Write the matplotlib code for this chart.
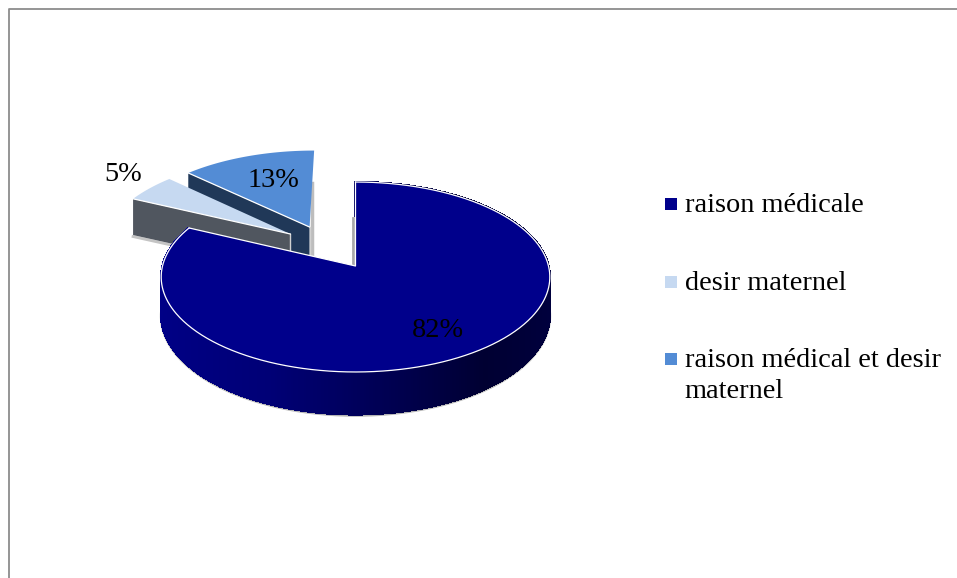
import numpy as np
import matplotlib
matplotlib.use("Agg")
import matplotlib.pyplot as plt
from matplotlib.collections import PolyCollection
from matplotlib.patches import Polygon, Rectangle

categories = ["raison médicale", "desir maternel", "raison médical et desir\nmaternel"]
values = [82, 5, 13]

top_colors = ["#00008b", "#c6d9f1", "#538cd5"]
wall_colors = [None, "#50565f", "#203858"]
# shift of each slice on the pie plane, in radii
offsets = [(0.0, 0.0), (-0.352, 0.356), (-0.250, 0.437)]

FONT = "Liberation Serif"
FS = 20.4
CX, CY = 355.5, 266
RX, RY = 193, 93.7
PERSP = 0.1158
DEPTH = 37.5

plt.rcParams["font.family"] = FONT


def project(u, v, d=0.0):
    w = 1 + PERSP * v
    return CX + RX * u / w, CY - RY * v / w + d / w


def arc(t0, t1, off, d=0.0, n=200):
    t = np.radians(np.linspace(t0, t1, n))
    return np.column_stack(project(np.sin(t) + off[0], np.cos(t) + off[1], d))


fig = plt.figure(figsize=(9.57, 5.78), dpi=100)
ax = fig.add_axes([0, 0, 1, 1])
ax.set_xlim(0, 957)
ax.set_ylim(578, 0)
ax.axis("off")

# chart frame, cut by the image on the right and at the bottom
ax.plot([9, 9, 957], [578, 9, 9], color="#8c8c8c", lw=1.3, zorder=1)

ends = np.cumsum(values) / np.sum(values) * 360
starts = ends - np.array(values) / np.sum(values) * 360

# 13% first, then 5%, the big slice goes on top
for i in [2, 1]:
    off = offsets[i]
    ax_pt = project(off[0], off[1])
    su, sv = np.sin(np.radians(starts[i])) + off[0], np.cos(np.radians(starts[i])) + off[1]
    tip = project(su, sv)
    tip_low = project(su, sv, DEPTH + 2)
    ax_low = project(off[0], off[1], DEPTH)
    ax.plot([tip_low[0], ax_low[0]], [tip_low[1] + 1.5, ax_low[1] + 1.5], color="#c4c4c4", lw=2, zorder=2 + i)
    if i == 2:
        ax.plot([ax_pt[0] + 2.5] * 2, [ax_pt[1] - 44, ax_low[1]], color="#bdbdbd", lw=2.5, zorder=2)
    ax.add_patch(Polygon([tip, ax_pt, ax_low, tip_low], fc=wall_colors[i], ec="none", zorder=6 - i))
    ax.plot([ax_low[0]] * 2, [ax_pt[1], ax_low[1]], color="#d0d0d0", lw=1, zorder=6 - i)
    top = np.vstack([arc(starts[i], ends[i], off), ax_pt])
    ax.add_patch(Polygon(top, fc=top_colors[i], ec="none", zorder=6.1 - i))
    ax.plot([tip[0], ax_pt[0]], [tip[1], ax_pt[1]], color="white", lw=0.9, zorder=6.2 - i)

# big slice: side wall as thin strips, darker towards the right
off = offsets[0]
upper = arc(starts[0], ends[0], off, n=500)
lower = arc(starts[0], ends[0], off, DEPTH, n=500)
pos = np.sin(np.radians(np.linspace(starts[0], ends[0], 500)))
shade = np.interp(pos, [-1, -0.4, 0, 0.6, 1], [134, 118, 92, 50, 62])
strips = [[upper[j], upper[j + 1], lower[j + 1], lower[j]] for j in range(499)]
strip_cols = [(0, 0, s / 255) for s in shade[:-1]]
ax.plot(lower[:, 0], lower[:, 1] + 1, color="#b5b5b5", lw=2, zorder=7)
ax.add_collection(PolyCollection(strips, facecolors=strip_cols, edgecolors=strip_cols, linewidths=1.0,
                                 antialiaseds=False, zorder=8))

# small grey edge at the cut of the big slice
p0 = project(0, 0)
ax.plot([p0[0] - 2.5] * 2, [p0[1] - 48, p0[1]], color="#a8a8a8", lw=2, zorder=5)

apex = project(*off)
top = np.vstack([upper, apex])
ax.add_patch(Polygon(top, fc=top_colors[0], ec="none", zorder=9))
ax.plot(upper[:, 0], upper[:, 1], color="white", lw=0.9, zorder=9.1)
ax.plot([upper[-1, 0], apex[0], upper[0, 0]], [upper[-1, 1], apex[1], upper[0, 1]], color="white", lw=0.9, zorder=9.1)

# percent labels
label_pos = [(123, 181), (273, 187)]
ax.text(438, 337, f"{values[0]}%", fontsize=FS, ha="center", va="baseline", color="black", zorder=12)
for v, (x, y) in zip(values[1:], label_pos):
    ax.text(x, y, f"{v}%", fontsize=FS, ha="center", va="baseline", color="black", zorder=12)

# legend
legend_y = [212, 290, 367]
for name, col, y in zip(categories, top_colors, legend_y):
    ax.add_patch(Rectangle((665, y - 14), 12, 12, fc=col, ec="none", zorder=3))
    ax.text(685, y, name.split("\n")[0], fontsize=FS, ha="left", va="baseline", color="black")
    if "\n" in name:
        ax.text(684.5, y + 31, name.split("\n")[1], fontsize=FS, ha="left", va="baseline", color="black")

fig.savefig("out.png", dpi=100)
